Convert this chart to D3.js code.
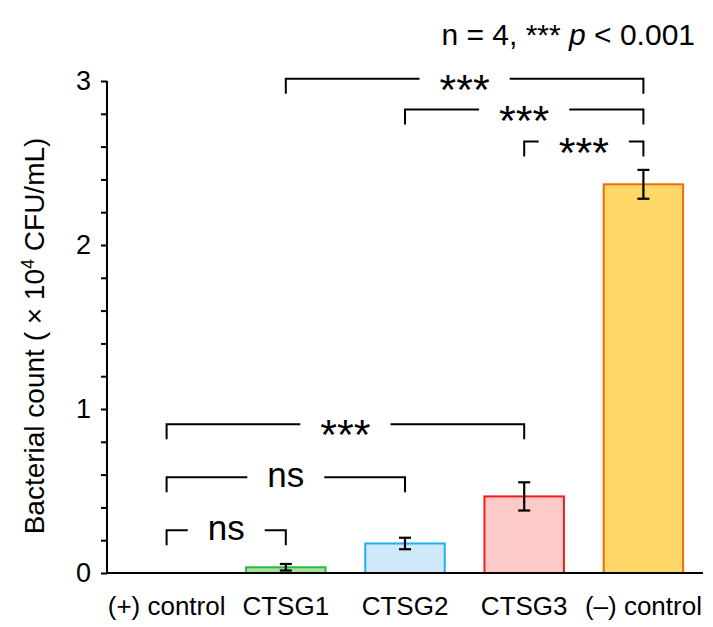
<!DOCTYPE html>
<html><head><meta charset="utf-8">
<script src="https://cdn.jsdelivr.net/npm/d3@7"></script>
<style>
html,body{margin:0;padding:0;background:#fff;}
svg text{font-family:Arial,"Liberation Sans",sans-serif;fill:#000;}
</style></head>
<body><svg id="chart" width="713" height="627"></svg>
<script>
const categories = ["(+) control", "CTSG1", "CTSG2", "CTSG3", "(–) control"];
const means = [0, 0.035, 0.18, 0.467, 2.37];
const errors = [0, 0.02, 0.035, 0.086, 0.088];
const fills = ["#ffffff", "#a8e39a", "#cfe9fb", "#fdcaca", "#fdd868"];
const strokes = ["#ffffff", "#2fb84a", "#1fb0ef", "#f01c1c", "#f26a0a"];
const yTicks = [0, 1, 2, 3];
const bracketFrom = ["(+) control", "(+) control", "(+) control", "CTSG1", "CTSG2", "CTSG3"];
const bracketTo = ["CTSG1", "CTSG2", "CTSG3", "(–) control", "(–) control", "(–) control"];
const bracketLevel = [0.26, 0.584, 0.907, 3.013, 2.826, 2.631];
const bracketLabel = ["ns", "ns", "***", "***", "***", "***"];

const svg = d3.select("#chart");
const x = d3.scaleBand().domain(categories).range([107, 703]).paddingInner(1/3).paddingOuter(1/6);
const y = d3.scaleLinear().domain([0, 3]).range([573, 81]);

// bars
svg.append("g").selectAll("rect").data(categories).join("rect")
  .attr("x", d => x(d))
  .attr("width", x.bandwidth())
  .attr("y", (d, i) => y(means[i]))
  .attr("height", (d, i) => y(0) - y(means[i]))
  .attr("fill", (d, i) => fills[i])
  .attr("stroke", (d, i) => strokes[i])
  .attr("stroke-width", 2)
  .attr("display", (d, i) => means[i] > 0 ? null : "none");

// error bars
const eb = svg.append("g").attr("stroke", "#000").attr("stroke-width", 2.2);
categories.forEach((c, i) => {
  if (means[i] <= 0) return;
  const cx = x(c) + x.bandwidth() / 2;
  const lo = Math.max(0, means[i] - errors[i]), hi = means[i] + errors[i];
  eb.append("line").attr("x1", cx).attr("x2", cx).attr("y1", y(lo)).attr("y2", y(hi));
  eb.append("line").attr("x1", cx - 6).attr("x2", cx + 6).attr("y1", y(hi)).attr("y2", y(hi));
  eb.append("line").attr("x1", cx - 6).attr("x2", cx + 6).attr("y1", y(lo)).attr("y2", y(lo));
});

// y axis
const minor = d3.range(0, 16).map(i => i / 5);
const yAxis = d3.axisLeft(y).tickValues(minor).tickSize(6).tickPadding(10)
  .tickFormat(d => yTicks.includes(Math.round(d * 1000) / 1000) ? d3.format("d")(d) : "");
const gy = svg.append("g").attr("transform", "translate(107,0)").call(yAxis);
gy.select(".domain").attr("d", `M0,${y(3)}V${y(0)}`).attr("stroke-width", 2);
gy.selectAll(".tick line").attr("stroke-width", 2);
gy.selectAll(".tick text").attr("font-size", 27).style("font-family", "Arial, 'Liberation Sans', sans-serif");

// x axis
const xAxis = d3.axisBottom(x).tickSize(0).tickPadding(24);
const gx = svg.append("g").attr("transform", `translate(0,${y(0)})`).call(xAxis);
gx.select(".domain").attr("d", `M106,0H703`).attr("stroke-width", 2);
gx.selectAll(".tick text").attr("font-size", 26).style("font-family", "Arial, 'Liberation Sans', sans-serif");

// y label
svg.append("text")
  .attr("transform", "translate(44,336) rotate(-90)")
  .attr("text-anchor", "middle")
  .attr("font-size", 28)
  .html('Bacterial count ( × 10<tspan baseline-shift="super" font-size="18">4</tspan> CFU/mL)');

// top note
svg.append("text").attr("x", 695).attr("y", 45).attr("text-anchor", "end").attr("font-size", 30)
  .html('n = 4, *** <tspan font-style="italic">p</tspan> &lt; 0.001');

// brackets
const bg = svg.append("g");
bracketLabel.forEach((lab, i) => {
  const x1 = x(bracketFrom[i]) + x.bandwidth() / 2;
  const x2 = x(bracketTo[i]) + x.bandwidth() / 2;
  const ly = y(bracketLevel[i]);
  const cx = (x1 + x2) / 2;
  const isStar = lab === "***";
  const t = bg.append("text").attr("x", cx).attr("text-anchor", "middle")
    .attr("font-size", isStar ? 43 : 35)
    .attr("y", isStar ? ly + 25 : ly + 10)
    .text(lab);
  const w = t.node().getComputedTextLength();
  const gap = w / 2 + 20;
  const drop = 15;
  bg.append("path")
    .attr("d", `M${x1},${ly + drop}V${ly}H${cx - gap}M${cx + gap},${ly}H${x2}V${ly + drop}`)
    .attr("fill", "none").attr("stroke", "#000").attr("stroke-width", 2);
});
</script></body></html>
